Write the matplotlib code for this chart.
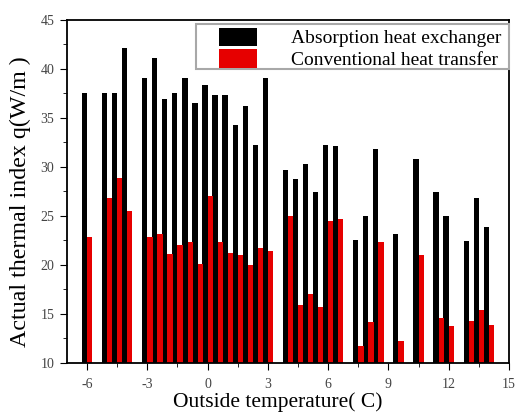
import numpy as np
import matplotlib.pyplot as plt
from matplotlib.patches import Rectangle
from matplotlib.ticker import MultipleLocator

# outside temperature (C) and thermal index q (W/m2)
temps = [-6, -5, -4.5, -4, -3, -2.5, -2, -1.5, -1, -0.5, 0, 0.5, 1, 1.5, 2, 2.5, 3,
         4, 4.5, 5, 5.5, 6, 6.5, 7.5, 8, 8.5, 9.5, 10.5, 11.5, 12, 13, 13.5, 14]
absorption = [37.6, 37.6, 37.6, 42.1, 39.1, 41.1, 36.9, 37.6, 39.1, 36.5, 38.4, 37.3,
              37.3, 34.3, 36.2, 32.2, 39.1, 29.7, 28.8, 30.3, 27.4, 32.2, 32.1,
              22.6, 25.0, 31.8, 23.2, 30.8, 27.4, 25.0, 22.4, 26.8, 23.9]
conventional = [22.9, 26.8, 28.9, 25.5, 22.9, 23.2, 21.1, 22.0, 22.3, 20.1, 27.0, 22.3,
                21.2, 21.0, 20.0, 21.7, 21.4, 25.0, 15.9, 17.0, 15.7, 24.5, 24.7,
                11.7, 14.2, 22.3, 12.2, 21.0, 14.6, 13.8, 14.3, 15.4, 13.9]

plt.rcParams['font.family'] = ['Liberation Serif', 'DejaVu Serif']
plt.rcParams['axes.unicode_minus'] = False

fig = plt.figure(figsize=(5.16, 4.19), dpi=100)
ax = fig.add_axes([0.1298, 0.1337, 0.8566, 0.8186])

t = np.array(temps)
w = 0.26
ax.bar(t - w / 2, np.array(absorption) - 10, w, bottom=10, color='black',
       label='Absorption heat exchanger')
ax.bar(t + w / 2, np.array(conventional) - 10, w, bottom=10, color='#e60000',
       label='Conventional heat transfer')

ax.set_xlim(-7, 15)
ax.set_ylim(10, 45)
ax.xaxis.set_major_locator(MultipleLocator(3))
ax.xaxis.set_minor_locator(MultipleLocator(1.5))
ax.yaxis.set_major_locator(MultipleLocator(5))
ax.yaxis.set_minor_locator(MultipleLocator(2.5))
ax.tick_params(which='both', direction='out', labelsize=10, labelcolor='#444444')
ax.tick_params(which='major', length=5)
ax.tick_params(which='minor', length=3)
ax.tick_params(axis='x', pad=6)
ax.tick_params(axis='y', pad=4)
for s in ax.spines.values():
    s.set_linewidth(1.3)

ax.set_xlabel('Outside temperature( C)', fontsize=15.5)
ax.set_ylabel('Actual thermal index q(W/m )', fontsize=17.3)
ax.xaxis.set_label_coords(0.477, -0.085)
ax.yaxis.set_label_coords(-0.082, 0.469)

# legend frame drawn separately so the handles sit inset like the original
ax.add_patch(Rectangle((0.292, 0.857), 0.708, 0.131, transform=ax.transAxes,
                       facecolor='white', edgecolor='#a8a8a8', linewidth=1.5,
                       zorder=4, clip_on=False))
leg = ax.legend(loc='upper left', bbox_to_anchor=(0.344, 0.978), fontsize=14,
                frameon=False, handlelength=1.95, handleheight=1.1,
                labelspacing=0.08, borderpad=0.0, handletextpad=1.75,
                borderaxespad=0.0)
leg.set_zorder(5)

fig.savefig('out.png', dpi=100)
